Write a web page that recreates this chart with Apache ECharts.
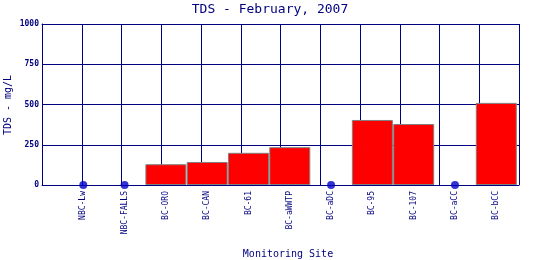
<!DOCTYPE html>
<html><head><meta charset="utf-8">
<script src="https://cdn.jsdelivr.net/npm/echarts@6/dist/echarts.min.js"></script>
<style>html,body{margin:0;padding:0;background:#fff}#c{width:540px;height:260px}</style>
</head><body><div id="c"></div>
<script>
var categories = ['NBC-Lw','NBC-FALLS','BC-ORO','BC-CAN','BC-61','BC-aWWTP','BC-aDC','BC-95','BC-107','BC-aCC','BC-bCC'];
var values = [0,0,129,143,200,235,0,404,379,0,510];
var yTicks = [0,250,500,750,1000];
var yTitle = 'TDS - mg/L';

var NAVY = '#000080';
var FONT = 'DejaVu Sans Mono';
var barData = [], dotData = [];
values.forEach(function(v,i){ if(v>0) barData.push([i+1,v]); else dotData.push([i+1,0]); });

var chart = echarts.init(document.getElementById('c'), null, {renderer:'canvas'});
chart.setOption({
  animation:false,
  title:{text:'TDS - February, 2007', left:'center', top:-2,
    textStyle:{fontFamily:FONT, fontSize:13, fontWeight:'normal', color:NAVY}},
  grid:{left:42, right:21, top:24, bottom:75, containLabel:false, outerBoundsMode:'none'},
  graphic:[{
    type:'text', x:8, y:105, rotation:Math.PI/2,
    style:{text:yTitle, fontFamily:FONT, fontSize:10, fill:NAVY, align:'center', verticalAlign:'middle'}
  }],
  xAxis:[{
    type:'value', min:0, max:11.55, interval:1,
    axisLine:{show:true, lineStyle:{color:NAVY, width:1}},
    axisTick:{show:false}, splitLine:{show:false},
    axisLabel:{rotate:90, fontFamily:FONT, fontSize:8, color:NAVY, margin:6, showMaxLabel:false,
      formatter:function(v){ var i=Math.round(v)-1; return (i>=0 && i<categories.length)?categories[i]:''; }},
    name:'Monitoring Site', nameLocation:'middle', nameGap:64,
    nameTextStyle:{fontFamily:FONT, fontSize:10, color:NAVY, padding:[0,0,0,15]}
  },{
    type:'value', min:0, max:12, interval:1, position:'top',
    axisLine:{show:true, lineStyle:{color:NAVY, width:1}},
    axisTick:{show:false}, axisLabel:{show:false},
    splitLine:{show:true, lineStyle:{color:NAVY, width:1}}
  }],
  yAxis:{
    type:'value', min:0, max:1000, interval:250,
    axisLine:{show:true, lineStyle:{color:NAVY, width:1}},
    axisTick:{show:false},
    splitLine:{show:true, lineStyle:{color:NAVY, width:1}},
    axisLabel:{fontFamily:FONT, fontSize:8, fontWeight:'bold', color:NAVY, margin:3,
      formatter:function(v){ return yTicks.indexOf(v)>=0 ? String(v) : ''; }}
  },
  series:[{
    type:'bar', xAxisIndex:0, data:barData, barWidth:41,
    itemStyle:{color:'#ff0000', borderColor:'#808080', borderWidth:1}
  },{
    type:'scatter', xAxisIndex:0, data:dotData, symbol:'circle', symbolSize:8,
    itemStyle:{color:'#0000c8'}, z:5
  }]
});
</script></body></html>
